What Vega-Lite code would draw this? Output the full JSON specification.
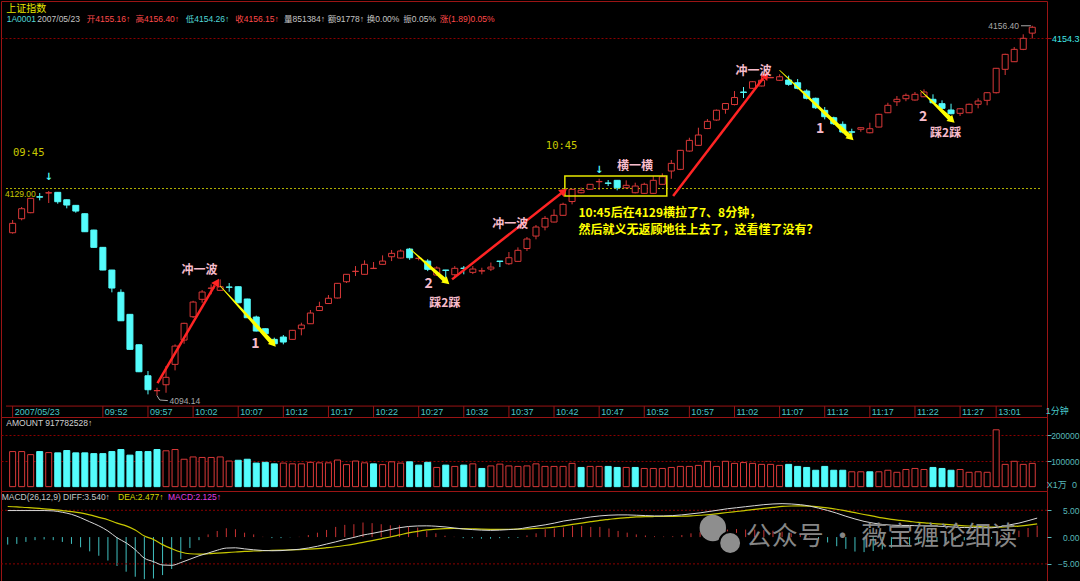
{
  "$schema": "https://vega.github.io/schema/vega-lite/v6.json",
  "background": "#000000",
  "padding": 0,
  "spacing": 0,
  "bounds": "flush",
  "config": {
    "view": {"stroke": "#9a1414", "strokeWidth": 1},
    "axis": {"labelFont": "Liberation Sans", "domain": false, "grid": false},
    "text": {"font": "Liberation Sans, Noto Sans CJK SC"}
  },
  "datasets": {
    "k": [
      {"i":0,"o":4121.56,"h":4123.70,"l":4121.40,"c":4123.14,"v":137000,"vd":1,"d":4.95,"e":5.71,"m":-1.4},
      {"i":1,"o":4123.92,"h":4125.89,"l":4123.65,"c":4125.60,"v":137000,"vd":1,"d":4.95,"e":5.65,"m":-1.27},
      {"i":2,"o":4124.93,"h":4127.40,"l":4124.85,"c":4127.35,"v":125000,"vd":1,"d":4.95,"e":5.52,"m":-0.9},
      {"i":3,"o":4127.62,"h":4128.24,"l":4127.01,"c":4127.55,"v":137000,"vd":0,"d":4.95,"e":5.40,"m":-0.57},
      {"i":4,"o":4128.24,"h":4128.58,"l":4126.56,"c":4128.30,"v":133000,"vd":1,"d":4.95,"e":5.27,"m":-0.44},
      {"i":5,"o":4128.36,"h":4128.40,"l":4126.44,"c":4126.78,"v":132000,"vd":0,"d":4.89,"e":5.14,"m":-0.57},
      {"i":6,"o":4127.11,"h":4127.15,"l":4125.67,"c":4126.22,"v":141000,"vd":0,"d":4.63,"e":4.95,"m":-0.9},
      {"i":7,"o":4126.17,"h":4126.20,"l":4124.93,"c":4125.21,"v":132000,"vd":0,"d":4.25,"e":4.76,"m":-1.27},
      {"i":8,"o":4124.76,"h":4124.80,"l":4121.70,"c":4121.73,"v":132000,"vd":0,"d":3.62,"e":4.51,"m":-1.9},
      {"i":9,"o":4122.01,"h":4122.05,"l":4119.05,"c":4119.10,"v":129000,"vd":0,"d":2.86,"e":4.13,"m":-2.66},
      {"i":10,"o":4119.10,"h":4119.15,"l":4115.25,"c":4115.28,"v":129000,"vd":0,"d":2.10,"e":3.68,"m":-3.48},
      {"i":11,"o":4115.28,"h":4115.30,"l":4111.53,"c":4112.25,"v":137000,"vd":0,"d":1.14,"e":3.24,"m":-4.37},
      {"i":12,"o":4111.53,"h":4112.03,"l":4106.70,"c":4106.74,"v":145000,"vd":0,"d":-0.13,"e":2.60,"m":-5.38},
      {"i":13,"o":4107.82,"h":4107.85,"l":4101.90,"c":4101.93,"v":123000,"vd":0,"d":-1.08,"e":2.10,"m":-6.46},
      {"i":14,"o":4102.70,"h":4102.75,"l":4098.10,"c":4098.16,"v":137000,"vd":0,"d":-2.35,"e":1.33,"m":-7.4},
      {"i":15,"o":4097.48,"h":4098.28,"l":4094.35,"c":4095.13,"v":137000,"vd":0,"d":-3.94,"e":0.19,"m":-7.85},
      {"i":16,"o":4094.96,"h":4095.46,"l":4094.14,"c":4095.00,"v":145000,"vd":0,"d":-4.57,"e":-0.44,"m":-7.72},
      {"i":17,"o":4095.97,"h":4099.12,"l":4094.62,"c":4097.22,"v":140000,"vd":1,"d":-5.21,"e":-1.40,"m":-7.09},
      {"i":18,"o":4099.40,"h":4102.77,"l":4098.39,"c":4102.48,"v":145000,"vd":1,"d":-5.27,"e":-2.16,"m":-5.95},
      {"i":19,"o":4103.49,"h":4106.40,"l":4102.87,"c":4106.31,"v":107000,"vd":1,"d":-4.76,"e":-2.79,"m":-4.11},
      {"i":20,"o":4107.42,"h":4110.10,"l":4107.20,"c":4109.89,"v":116000,"vd":1,"d":-4.13,"e":-3.11,"m":-2.03},
      {"i":21,"o":4110.35,"h":4111.91,"l":4109.77,"c":4111.58,"v":114000,"vd":1,"d":-3.49,"e":-3.17,"m":-0.57},
      {"i":22,"o":4112.20,"h":4112.87,"l":4111.19,"c":4112.25,"v":114000,"vd":1,"d":-2.98,"e":-3.11,"m":0.5},
      {"i":23,"o":4111.86,"h":4113.71,"l":4111.80,"c":4112.47,"v":116000,"vd":1,"d":-2.45,"e":-3.00,"m":1.14},
      {"i":24,"o":4112.42,"h":4113.09,"l":4111.63,"c":4112.38,"v":100000,"vd":1,"d":-2.05,"e":-2.90,"m":1.65},
      {"i":25,"o":4112.47,"h":4112.50,"l":4109.70,"c":4109.77,"v":103000,"vd":0,"d":-2.00,"e":-2.78,"m":1.46},
      {"i":26,"o":4110.40,"h":4110.45,"l":4107.20,"c":4107.25,"v":107000,"vd":0,"d":-2.20,"e":-2.67,"m":0.82},
      {"i":27,"o":4107.37,"h":4107.60,"l":4104.95,"c":4105.01,"v":92000,"vd":0,"d":-2.37,"e":-2.60,"m":0.5},
      {"i":28,"o":4105.40,"h":4105.45,"l":4104.50,"c":4104.56,"v":95000,"vd":0,"d":-2.50,"e":-2.54,"m":0.06},
      {"i":29,"o":4103.61,"h":4103.90,"l":4102.50,"c":4102.87,"v":89000,"vd":0,"d":-2.55,"e":-2.48,"m":-0.19},
      {"i":30,"o":4104.00,"h":4104.34,"l":4102.77,"c":4103.16,"v":92000,"vd":1,"d":-2.52,"e":-2.43,"m":-0.19},
      {"i":31,"o":4103.61,"h":4105.20,"l":4103.55,"c":4105.13,"v":89000,"vd":1,"d":-2.40,"e":-2.38,"m":-0.05},
      {"i":32,"o":4105.40,"h":4106.41,"l":4104.29,"c":4106.02,"v":89000,"vd":1,"d":-2.28,"e":-2.33,"m":0.05},
      {"i":33,"o":4106.24,"h":4108.55,"l":4106.20,"c":4108.04,"v":95000,"vd":1,"d":-2.03,"e":-2.25,"m":0.38},
      {"i":34,"o":4108.46,"h":4109.94,"l":4108.40,"c":4109.13,"v":93000,"vd":1,"d":-1.71,"e":-2.14,"m":0.82},
      {"i":35,"o":4109.64,"h":4111.07,"l":4109.60,"c":4110.53,"v":93000,"vd":1,"d":-1.30,"e":-1.98,"m":1.33},
      {"i":36,"o":4110.57,"h":4113.10,"l":4110.50,"c":4113.04,"v":104000,"vd":1,"d":-0.89,"e":-1.80,"m":1.9},
      {"i":37,"o":4113.31,"h":4114.60,"l":4113.10,"c":4114.56,"v":86000,"vd":1,"d":-0.44,"e":-1.57,"m":2.28},
      {"i":38,"o":4115.03,"h":4115.95,"l":4114.27,"c":4115.08,"v":100000,"vd":1,"d":-0.06,"e":-1.30,"m":2.4},
      {"i":39,"o":4114.56,"h":4116.91,"l":4114.50,"c":4116.24,"v":93000,"vd":1,"d":0.38,"e":-0.98,"m":2.72},
      {"i":40,"o":4115.53,"h":4116.63,"l":4115.45,"c":4115.58,"v":89000,"vd":0,"d":0.68,"e":-0.66,"m":2.6},
      {"i":41,"o":4116.24,"h":4117.75,"l":4116.20,"c":4116.79,"v":86000,"vd":1,"d":1.02,"e":-0.32,"m":2.4},
      {"i":42,"o":4117.52,"h":4118.65,"l":4116.79,"c":4118.09,"v":97000,"vd":1,"d":1.40,"e":0.02,"m":2.2},
      {"i":43,"o":4117.30,"h":4118.76,"l":4117.25,"c":4118.48,"v":92000,"vd":1,"d":1.75,"e":0.40,"m":2.2},
      {"i":44,"o":4118.81,"h":4119.00,"l":4117.00,"c":4117.35,"v":97000,"vd":0,"d":1.98,"e":0.78,"m":1.9},
      {"i":45,"o":4117.22,"h":4117.60,"l":4116.90,"c":4117.27,"v":84000,"vd":0,"d":2.08,"e":1.08,"m":1.77},
      {"i":46,"o":4116.79,"h":4117.10,"l":4115.10,"c":4115.40,"v":95000,"vd":0,"d":2.10,"e":1.33,"m":1.14},
      {"i":47,"o":4114.44,"h":4115.90,"l":4114.30,"c":4115.62,"v":75000,"vd":1,"d":2.03,"e":1.48,"m":0.7},
      {"i":48,"o":4115.28,"h":4115.30,"l":4113.93,"c":4115.22,"v":84000,"vd":0,"d":1.90,"e":1.57,"m":0.25},
      {"i":49,"o":4114.49,"h":4115.95,"l":4113.93,"c":4115.57,"v":79000,"vd":1,"d":1.71,"e":1.60,"m":0.06},
      {"i":50,"o":4115.60,"h":4115.95,"l":4114.56,"c":4115.55,"v":84000,"vd":0,"d":1.52,"e":1.59,"m":-0.2},
      {"i":51,"o":4114.89,"h":4115.95,"l":4114.60,"c":4115.45,"v":89000,"vd":1,"d":1.40,"e":1.54,"m":-0.2},
      {"i":52,"o":4115.11,"h":4115.67,"l":4114.56,"c":4115.16,"v":71000,"vd":0,"d":1.30,"e":1.48,"m":-0.3},
      {"i":53,"o":4115.45,"h":4116.54,"l":4115.11,"c":4115.78,"v":81000,"vd":1,"d":1.25,"e":1.45,"m":-0.3},
      {"i":54,"o":4116.79,"h":4116.80,"l":4115.78,"c":4116.73,"v":88000,"vd":1,"d":1.30,"e":1.44,"m":-0.2},
      {"i":55,"o":4116.34,"h":4118.31,"l":4116.12,"c":4117.35,"v":81000,"vd":1,"d":1.40,"e":1.45,"m":-0.2},
      {"i":56,"o":4116.74,"h":4119.10,"l":4116.70,"c":4118.60,"v":79000,"vd":1,"d":1.50,"e":1.47,"m":-0.15},
      {"i":57,"o":4118.90,"h":4120.84,"l":4118.48,"c":4120.50,"v":81000,"vd":1,"d":1.78,"e":1.52,"m":0.3},
      {"i":58,"o":4121.00,"h":4122.86,"l":4120.45,"c":4122.52,"v":89000,"vd":1,"d":2.03,"e":1.62,"m":0.7},
      {"i":59,"o":4122.52,"h":4124.37,"l":4121.96,"c":4123.98,"v":79000,"vd":1,"d":2.29,"e":1.70,"m":1.46},
      {"i":60,"o":4123.36,"h":4125.50,"l":4123.30,"c":4124.49,"v":79000,"vd":1,"d":2.61,"e":1.85,"m":1.6},
      {"i":61,"o":4124.49,"h":4126.61,"l":4124.40,"c":4126.34,"v":79000,"vd":1,"d":2.99,"e":2.10,"m":1.78},
      {"i":62,"o":4126.81,"h":4128.92,"l":4126.34,"c":4128.87,"v":91000,"vd":1,"d":3.25,"e":2.36,"m":2.1},
      {"i":63,"o":4128.29,"h":4129.17,"l":4128.20,"c":4128.71,"v":75000,"vd":0,"d":3.50,"e":2.61,"m":2.1},
      {"i":64,"o":4128.87,"h":4129.75,"l":4128.80,"c":4129.71,"v":79000,"vd":1,"d":3.76,"e":2.87,"m":1.9},
      {"i":65,"o":4130.14,"h":4130.65,"l":4128.75,"c":4130.19,"v":79000,"vd":1,"d":3.95,"e":3.12,"m":1.9},
      {"i":66,"o":4129.93,"h":4130.43,"l":4129.42,"c":4129.88,"v":79000,"vd":0,"d":4.08,"e":3.31,"m":1.6},
      {"i":67,"o":4130.38,"h":4130.40,"l":4128.70,"c":4129.13,"v":75000,"vd":0,"d":4.14,"e":3.50,"m":1.15},
      {"i":68,"o":4129.13,"h":4130.38,"l":4128.97,"c":4129.54,"v":75000,"vd":1,"d":4.14,"e":3.63,"m":0.83},
      {"i":69,"o":4128.29,"h":4129.98,"l":4128.20,"c":4129.42,"v":75000,"vd":0,"d":4.08,"e":3.76,"m":0.5},
      {"i":70,"o":4128.19,"h":4129.98,"l":4128.10,"c":4129.71,"v":71000,"vd":1,"d":4.01,"e":3.82,"m":0.3},
      {"i":71,"o":4128.19,"h":4131.10,"l":4128.10,"c":4130.38,"v":71000,"vd":1,"d":3.95,"e":3.84,"m":0.15},
      {"i":72,"o":4129.71,"h":4131.56,"l":4129.60,"c":4130.99,"v":71000,"vd":1,"d":3.95,"e":3.85,"m":0.1},
      {"i":73,"o":4131.95,"h":4133.80,"l":4130.65,"c":4133.24,"v":75000,"vd":1,"d":4.01,"e":3.86,"m":0.15},
      {"i":74,"o":4132.23,"h":4135.50,"l":4132.10,"c":4135.43,"v":79000,"vd":1,"d":4.14,"e":3.89,"m":0.38},
      {"i":75,"o":4135.31,"h":4137.55,"l":4135.20,"c":4137.11,"v":79000,"vd":1,"d":4.33,"e":3.95,"m":0.7},
      {"i":76,"o":4136.27,"h":4139.24,"l":4136.20,"c":4138.01,"v":83000,"vd":1,"d":4.52,"e":4.08,"m":0.9},
      {"i":77,"o":4139.10,"h":4140.70,"l":4139.00,"c":4140.31,"v":99000,"vd":1,"d":4.78,"e":4.20,"m":1.1},
      {"i":78,"o":4140.53,"h":4142.30,"l":4140.40,"c":4142.18,"v":79000,"vd":1,"d":5.03,"e":4.39,"m":1.3},
      {"i":79,"o":4142.33,"h":4143.40,"l":4141.59,"c":4143.31,"v":99000,"vd":1,"d":5.29,"e":4.59,"m":1.4},
      {"i":80,"o":4143.14,"h":4145.41,"l":4143.00,"c":4144.32,"v":91000,"vd":1,"d":5.48,"e":4.78,"m":1.5},
      {"i":81,"o":4145.25,"h":4146.09,"l":4144.24,"c":4145.18,"v":94000,"vd":1,"d":5.67,"e":4.97,"m":1.4},
      {"i":82,"o":4145.87,"h":4147.10,"l":4145.80,"c":4146.98,"v":91000,"vd":1,"d":5.86,"e":5.16,"m":1.4},
      {"i":83,"o":4146.26,"h":4147.94,"l":4146.20,"c":4147.22,"v":87000,"vd":1,"d":6.05,"e":5.35,"m":1.3},
      {"i":84,"o":4147.64,"h":4147.80,"l":4147.60,"c":4147.70,"v":87000,"vd":1,"d":6.18,"e":5.54,"m":1.2},
      {"i":85,"o":4147.22,"h":4148.23,"l":4147.10,"c":4147.82,"v":83000,"vd":1,"d":6.24,"e":5.73,"m":1.0},
      {"i":86,"o":4147.27,"h":4148.00,"l":4146.30,"c":4146.54,"v":87000,"vd":0,"d":6.18,"e":5.80,"m":0.7},
      {"i":87,"o":4146.81,"h":4147.43,"l":4145.70,"c":4145.87,"v":79000,"vd":0,"d":6.05,"e":5.82,"m":0.4},
      {"i":88,"o":4145.41,"h":4145.70,"l":4144.00,"c":4144.19,"v":75000,"vd":0,"d":5.80,"e":5.78,"m":0.1},
      {"i":89,"o":4144.19,"h":4144.30,"l":4142.40,"c":4142.60,"v":64000,"vd":0,"d":5.41,"e":5.65,"m":-0.4},
      {"i":90,"o":4142.16,"h":4142.72,"l":4140.65,"c":4141.09,"v":79000,"vd":0,"d":4.97,"e":5.45,"m":-1.0},
      {"i":91,"o":4140.92,"h":4141.10,"l":4139.70,"c":4139.91,"v":64000,"vd":0,"d":4.46,"e":5.20,"m":-1.7},
      {"i":92,"o":4139.81,"h":4140.30,"l":4138.30,"c":4138.51,"v":64000,"vd":0,"d":3.89,"e":4.88,"m":-2.2},
      {"i":93,"o":4138.55,"h":4139.07,"l":4137.84,"c":4138.48,"v":58000,"vd":1,"d":3.38,"e":4.55,"m":-2.7},
      {"i":94,"o":4138.97,"h":4139.30,"l":4138.56,"c":4139.24,"v":58000,"vd":1,"d":2.93,"e":4.22,"m":-2.8},
      {"i":95,"o":4138.39,"h":4140.08,"l":4138.30,"c":4139.07,"v":58000,"vd":0,"d":2.61,"e":3.90,"m":-2.6},
      {"i":96,"o":4139.35,"h":4141.60,"l":4139.30,"c":4141.49,"v":58000,"vd":1,"d":2.36,"e":3.57,"m":-2.3},
      {"i":97,"o":4141.76,"h":4143.44,"l":4141.70,"c":4143.01,"v":64000,"vd":1,"d":2.23,"e":3.31,"m":-2.0},
      {"i":98,"o":4143.61,"h":4144.57,"l":4142.89,"c":4144.02,"v":56000,"vd":1,"d":2.17,"e":3.12,"m":-1.8},
      {"i":99,"o":4144.12,"h":4145.00,"l":4143.70,"c":4144.69,"v":67000,"vd":1,"d":2.17,"e":2.93,"m":-1.5},
      {"i":100,"o":4143.90,"h":4145.25,"l":4143.80,"c":4144.86,"v":71000,"vd":1,"d":2.10,"e":2.74,"m":-1.3},
      {"i":101,"o":4144.45,"h":4145.70,"l":4144.40,"c":4145.25,"v":67000,"vd":1,"d":2.10,"e":2.61,"m":-1.0},
      {"i":102,"o":4144.02,"h":4144.86,"l":4143.30,"c":4143.44,"v":75000,"vd":0,"d":2.04,"e":2.48,"m":-0.9},
      {"i":103,"o":4143.28,"h":4143.85,"l":4142.40,"c":4142.50,"v":71000,"vd":0,"d":1.97,"e":2.36,"m":-0.8},
      {"i":104,"o":4142.22,"h":4143.28,"l":4141.50,"c":4141.59,"v":64000,"vd":0,"d":1.85,"e":2.23,"m":-0.7},
      {"i":105,"o":4141.66,"h":4142.50,"l":4141.21,"c":4142.43,"v":67000,"vd":1,"d":1.78,"e":2.10,"m":-0.6},
      {"i":106,"o":4141.76,"h":4143.30,"l":4141.70,"c":4143.18,"v":56000,"vd":1,"d":1.78,"e":2.04,"m":-0.5},
      {"i":107,"o":4143.18,"h":4144.19,"l":4142.50,"c":4143.73,"v":58000,"vd":1,"d":1.72,"e":1.93,"m":-0.4},
      {"i":108,"o":4143.85,"h":4145.20,"l":4143.01,"c":4145.13,"v":56000,"vd":1,"d":1.72,"e":1.87,"m":-0.3},
      {"i":109,"o":4145.13,"h":4149.30,"l":4145.00,"c":4149.24,"v":222000,"vd":1,"d":1.97,"e":1.87,"m":0.25},
      {"i":110,"o":4149.07,"h":4151.70,"l":4148.11,"c":4151.59,"v":87000,"vd":1,"d":2.29,"e":1.93,"m":0.8},
      {"i":111,"o":4150.35,"h":4152.82,"l":4150.30,"c":4152.43,"v":99000,"vd":1,"d":2.61,"e":2.05,"m":1.2},
      {"i":112,"o":4152.43,"h":4154.96,"l":4152.30,"c":4154.29,"v":87000,"vd":1,"d":3.06,"e":2.22,"m":1.7},
      {"i":113,"o":4155.16,"h":4156.40,"l":4154.26,"c":4156.15,"v":91000,"vd":1,"d":3.54,"e":2.477,"m":2.125}
    ],
    "times": [
      {"i": 0, "t": "2007/05/23"}, {"i": 10, "t": "09:52"}, {"i": 15, "t": "09:57"}, {"i": 20, "t": "10:02"},
      {"i": 25, "t": "10:07"}, {"i": 30, "t": "10:12"}, {"i": 35, "t": "10:17"}, {"i": 40, "t": "10:22"},
      {"i": 45, "t": "10:27"}, {"i": 50, "t": "10:32"}, {"i": 55, "t": "10:37"}, {"i": 60, "t": "10:42"},
      {"i": 65, "t": "10:47"}, {"i": 70, "t": "10:52"}, {"i": 75, "t": "10:57"}, {"i": 80, "t": "11:02"},
      {"i": 85, "t": "11:07"}, {"i": 90, "t": "11:12"}, {"i": 95, "t": "11:17"}, {"i": 100, "t": "11:22"},
      {"i": 105, "t": "11:27"}, {"i": 109, "t": "13:01"}
    ]
  },
  "vconcat": [
    {
      "width": 1046,
      "height": 416,
      "encoding": {
        "x": {
          "field": "i", "type": "quantitative", "title": null, "axis": null,
          "scale": {"domain": [-0.735, 114.08], "nice": false, "zero": false}
        }
      },
      "layer": [
        {
          "data": {"name": "k"},
          "mark": {"type": "rule", "strokeWidth": 1},
          "encoding": {
            "y": {
              "field": "l", "type": "quantitative", "title": null,
              "scale": {"domain": [4090.54, 4160.57], "nice": false, "zero": false},
              "axis": {"orient": "right", "values": [4154.3], "format": ".1f", "labelColor": "#40e8e8", "labelFontSize": 9,
                "tickColor": "#9a1414", "tickSize": 4, "labelAlign": "right", "labelPadding": 28, "labelBaseline": "middle",
                "grid": true, "gridColor": "#8a0000", "gridDash": [2, 2], "domain": false}
            },
            "y2": {"field": "h"},
            "color": {"condition": {"test": "datum.c >= datum.o", "value": "#d83838"}, "value": "#54fcfc"}
          }
        },
        {
          "data": {"values": [{"i": -0.735, "i2": 114.08, "p": 4129}]},
          "mark": {"type": "rule", "color": "#b4b400", "strokeDash": [2, 2], "strokeWidth": 1},
          "encoding": {"x2": {"field": "i2"}, "y": {"field": "p", "type": "quantitative", "title": null}}
        },
        {
          "data": {"values": [{"i": -0.735, "i2": 114.08, "p": 4092.38}]},
          "mark": {"type": "rule", "color": "#9a1414", "strokeWidth": 1},
          "encoding": {"x2": {"field": "i2"}, "y": {"field": "p", "type": "quantitative", "title": null}}
        },
        {
          "data": {"name": "times"},
          "mark": {"type": "rule", "color": "#9a1414", "strokeWidth": 1},
          "encoding": {"y": {"datum": 4090.54, "type": "quantitative"}, "y2": {"datum": 4092.38}}
        },
        {
          "data": {"name": "times"},
          "mark": {"type": "text", "fontSize": 9, "color": "#48c8c8", "align": "left", "baseline": "top", "dx": 2, "dy": 2},
          "encoding": {"y": {"datum": 4092.38, "type": "quantitative"}, "text": {"field": "t"}}
        },
        {
          "data": {"name": "k"},
          "mark": {"type": "bar", "width": 6, "strokeWidth": 1},
          "encoding": {
            "y": {"field": "o", "type": "quantitative", "title": null},
            "y2": {"field": "c"},
            "fill": {"condition": {"test": "datum.c >= datum.o", "value": "#000000"}, "value": "#54fcfc"},
            "stroke": {"condition": {"test": "datum.c >= datum.o", "value": "#d83838"}, "value": "#54fcfc"}
          }
        },
        {
          "data": {"values": [{"i": 61.2, "i2": 72.5, "p": 4127.74, "p2": 4131.1}]},
          "mark": {"type": "rect", "filled": false, "stroke": "#e8e800", "strokeWidth": 1.5},
          "encoding": {"x2": {"field": "i2"}, "y": {"field": "p", "type": "quantitative", "title": null}, "y2": {"field": "p2"}}
        },
        {
          "data": {"values": [
            {"a": "r1", "i": 16.06, "p": 4096.26}, {"a": "r1", "i": 22.4, "p": 4112.7},
            {"a": "r2", "i": 48.7, "p": 4113.71}, {"a": "r2", "i": 60.8, "p": 4128.2},
            {"a": "r3", "i": 73.2, "p": 4127.74}, {"a": "r3", "i": 83.2, "p": 4147.6}
          ]},
          "mark": {"type": "line", "color": "#ff2424", "strokeWidth": 2.5},
          "encoding": {"y": {"field": "p", "type": "quantitative", "title": null}, "detail": {"field": "a"}}
        },
        {
          "data": {"values": [
            {"a": "y1", "k": 0, "i": 23.0, "p": 4112.6}, {"a": "y1", "k": 1, "i": 28.6, "p": 4103.3},
            {"a": "y2", "k": 0, "i": 44.1, "p": 4118.77}, {"a": "y2", "k": 1, "i": 47.8, "p": 4113.7},
            {"a": "y3", "k": 0, "i": 85.0, "p": 4148.9}, {"a": "y3", "k": 1, "i": 92.6, "p": 4138.0},
            {"a": "y4", "k": 0, "i": 100.6, "p": 4145.53}, {"a": "y4", "k": 1, "i": 103.8, "p": 4140.9}
          ]},
          "mark": {"type": "trail", "color": "#ffff00"},
          "encoding": {
            "y": {"field": "p", "type": "quantitative", "title": null},
            "detail": {"field": "a"},
            "size": {"field": "k", "type": "quantitative", "scale": {"domain": [0, 1], "range": [0.6, 4.5]}, "legend": null}
          }
        },
        {
          "data": {"values": [
            {"i": 22.65, "p": 4113.26, "ang": 30.7},
            {"i": 61.1, "p": 4128.58, "ang": 52.1},
            {"i": 83.5, "p": 4148.1, "ang": 37.8}
          ]},
          "mark": {"type": "point", "shape": "triangle-up", "filled": true, "color": "#ff2424", "size": 80, "opacity": 1},
          "encoding": {"y": {"field": "p", "type": "quantitative", "title": null}, "angle": {"field": "ang", "type": "quantitative", "scale": null}}
        },
        {
          "data": {"values": [
            {"i": 28.9, "p": 4102.82, "ang": 138.9},
            {"i": 48.1, "p": 4113.31, "ang": 131.4},
            {"i": 92.9, "p": 4137.55, "ang": 133.2},
            {"i": 104.1, "p": 4140.48, "ang": 133.4}
          ]},
          "mark": {"type": "point", "shape": "triangle-up", "filled": true, "color": "#ffff00", "size": 70, "opacity": 1},
          "encoding": {"y": {"field": "p", "type": "quantitative", "title": null}, "angle": {"field": "ang", "type": "quantitative", "scale": null}}
        },
        {
          "data": {"values": [
            {"i": 20.7, "p": 4115.28, "t": "冲一波"},
            {"i": 55.14, "p": 4122.97, "t": "冲一波"},
            {"i": 82.1, "p": 4148.78, "t": "冲一波"},
            {"i": 47.9, "p": 4109.67, "t": "踩2踩"},
            {"i": 103.4, "p": 4138.29, "t": "踩2踩"},
            {"i": 68.97, "p": 4132.79, "t": "横一横"}
          ]},
          "mark": {"type": "text", "font": "Noto Sans CJK SC", "fontSize": 12, "fontWeight": "bold", "color": "#f7bccb", "align": "center", "baseline": "middle"},
          "encoding": {"y": {"field": "p", "type": "quantitative", "title": null}, "text": {"field": "t"}}
        },
        {
          "data": {"values": [
            {"i": 26.9, "p": 4102.8, "t": "1"},
            {"i": 46.1, "p": 4112.87, "t": "2"},
            {"i": 89.5, "p": 4138.97, "t": "1"},
            {"i": 100.9, "p": 4141.04, "t": "2"}
          ]},
          "mark": {"type": "text", "font": "Noto Sans CJK SC", "fontSize": 14, "fontWeight": "bold", "color": "#f7bccb", "align": "center", "baseline": "middle"},
          "encoding": {"y": {"field": "p", "type": "quantitative", "title": null}, "text": {"field": "t"}}
        },
        {
          "data": {"values": [
            {"i": 62.71, "p": 4124.88, "t": "10:45后在4129横拉了7、8分钟，"},
            {"i": 62.71, "p": 4122.1, "t": "然后就义无返顾地往上去了，这看懂了没有？"}
          ]},
          "mark": {"type": "text", "font": "Noto Sans CJK SC", "fontSize": 12, "fontWeight": "bold", "color": "#ffff00", "align": "left", "baseline": "middle"},
          "encoding": {"y": {"field": "p", "type": "quantitative", "title": null}, "text": {"field": "t"}}
        },
        {
          "data": {"values": [
            {"i": 0.03, "p": 4134.98, "t": "09:45"},
            {"i": 59.09, "p": 4136.15, "t": "10:45"}
          ]},
          "mark": {"type": "text", "font": "DejaVu Sans Mono", "fontSize": 10.5, "color": "#c8c800", "align": "left", "baseline": "middle"},
          "encoding": {"y": {"field": "p", "type": "quantitative", "title": null}, "text": {"field": "t"}}
        },
        {
          "data": {"values": [{"i": 17.38, "p": 4093.28, "t": "4094.14"}]},
          "mark": {"type": "text", "fontSize": 8.5, "color": "#a8a8a8", "align": "left", "baseline": "middle"},
          "encoding": {"y": {"field": "p", "type": "quantitative", "title": null}, "text": {"field": "t"}}
        },
        {
          "data": {"values": [{"i": 111.53, "p": 4156.44, "t": "4156.40"}]},
          "mark": {"type": "text", "fontSize": 8.5, "color": "#a8a8a8", "align": "right", "baseline": "middle"},
          "encoding": {"y": {"field": "p", "type": "quantitative", "title": null}, "text": {"field": "t"}}
        },
        {
          "data": {"values": [
            {"a": "g1", "i": 16.0, "p": 4094.14}, {"a": "g1", "i": 16.3, "p": 4093.4}, {"a": "g1", "i": 17.2, "p": 4093.3},
            {"a": "g2", "i": 111.75, "p": 4156.4}, {"a": "g2", "i": 112.85, "p": 4156.4}
          ]},
          "mark": {"type": "line", "color": "#a8a8a8", "strokeWidth": 1},
          "encoding": {"y": {"field": "p", "type": "quantitative", "title": null}, "detail": {"field": "a"}}
        },
        {
          "data": {"values": [{"i": 4.0, "p": 4130.94, "t": "↓"}, {"i": 65.0, "p": 4132.11, "t": "↓"}]},
          "mark": {"type": "text", "font": "DejaVu Sans", "fontSize": 10, "fontWeight": "bold", "color": "#54fcfc", "align": "center", "baseline": "middle"},
          "encoding": {"y": {"field": "p", "type": "quantitative", "title": null}, "text": {"field": "t"}}
        },
        {
          "data": {"values": [{"i": -0.7, "p": 4159.3, "t": "上证指数"}]},
          "mark": {"type": "text", "font": "Noto Sans CJK SC", "fontSize": 10, "color": "#e6e600", "align": "left", "baseline": "middle"},
          "encoding": {"y": {"field": "p", "type": "quantitative", "title": null}, "text": {"field": "t"}}
        },
        {
          "data": {"values": [{"i": -0.66, "p": 4157.6, "t": "1A0001"}, {"i": 19.19, "p": 4157.6, "t": "低4154.26↑"}]},
          "mark": {"type": "text", "fontSize": 8.5, "color": "#50d8d8", "align": "left", "baseline": "middle"},
          "encoding": {"y": {"field": "p", "type": "quantitative", "title": null}, "text": {"field": "t"}}
        },
        {
          "data": {"values": [
            {"i": 2.74, "p": 4157.6, "t": "2007/05/23"},
            {"i": 30.07, "p": 4157.6, "t": "量851384↑"},
            {"i": 34.91, "p": 4157.6, "t": "额91778↑"},
            {"i": 39.25, "p": 4157.6, "t": "换0.00%"},
            {"i": 43.3, "p": 4157.6, "t": "振0.05%"}
          ]},
          "mark": {"type": "text", "fontSize": 8.5, "color": "#c4c4c4", "align": "left", "baseline": "middle"},
          "encoding": {"y": {"field": "p", "type": "quantitative", "title": null}, "text": {"field": "t"}}
        },
        {
          "data": {"values": [
            {"i": 8.22, "p": 4157.6, "t": "开4155.16↑"},
            {"i": 13.63, "p": 4157.6, "t": "高4156.40↑"},
            {"i": 24.67, "p": 4157.6, "t": "收4156.15↑"},
            {"i": 47.34, "p": 4157.6, "t": "涨(1.89)0.05%"}
          ]},
          "mark": {"type": "text", "fontSize": 8.5, "color": "#ff4a4a", "align": "left", "baseline": "middle"},
          "encoding": {"y": {"field": "p", "type": "quantitative", "title": null}, "text": {"field": "t"}}
        },
        {
          "data": {"values": [{"i": -0.84, "p": 4128.07, "t": "4129.00"}]},
          "mark": {"type": "text", "fontSize": 8.5, "color": "#c8c800", "align": "left", "baseline": "middle"},
          "encoding": {"y": {"field": "p", "type": "quantitative", "title": null}, "text": {"field": "t"}}
        },
        {
          "data": {"values": [{"i": 114.5, "p": 4092.38, "t": "1分钟"}]},
          "mark": {"type": "text", "fontSize": 9, "color": "#48c8c8", "align": "left", "baseline": "top", "dy": 1},
          "encoding": {"y": {"field": "p", "type": "quantitative", "title": null}, "text": {"field": "t"}}
        }
      ]
    },
    {
      "width": 1046,
      "height": 74,
      "encoding": {
        "x": {"field": "i", "type": "quantitative", "title": null, "axis": null,
          "scale": {"domain": [-0.735, 114.08], "nice": false, "zero": false}}
      },
      "layer": [
        {
          "data": {"name": "k"},
          "mark": {"type": "bar", "width": 6, "strokeWidth": 1},
          "encoding": {
            "y": {"field": "v", "type": "quantitative", "title": null,
              "scale": {"domain": [-17000, 272000], "nice": false, "zero": false},
              "axis": {"orient": "right", "values": [100000, 200000], "format": "d", "labelColor": "#58b8b8", "labelFontSize": 8.5,
                "tickColor": "#58b8b8", "tickSize": 4, "labelAlign": "right", "labelPadding": 28, "labelBaseline": "middle",
                "grid": true, "gridColor": "#8a0000", "gridDash": [2, 2], "domain": false}},
            "y2": {"datum": 0},
            "fill": {"condition": {"test": "datum.vd == 1", "value": "#000000"}, "value": "#54fcfc"},
            "stroke": {"condition": {"test": "datum.vd == 1", "value": "#d83838"}, "value": "#54fcfc"}
          }
        },
        {
          "data": {"values": [{"i": -0.7, "p": 272000, "t": "AMOUNT 917782528↑"}]},
          "mark": {"type": "text", "fontSize": 8.5, "color": "#d0d0d0", "align": "left", "baseline": "top", "dy": 2},
          "encoding": {"y": {"field": "p", "type": "quantitative", "title": null}, "text": {"field": "t"}}
        },
        {
          "data": {"values": [{"i": 114.6, "p": 8000, "t": "X1万"}, {"i": 117.4, "p": 8000, "t": "0"}]},
          "mark": {"type": "text", "fontSize": 9, "color": "#58b8b8", "align": "left", "baseline": "middle"},
          "encoding": {"y": {"field": "p", "type": "quantitative", "title": null}, "text": {"field": "t"}}
        }
      ]
    },
    {
      "width": 1046,
      "height": 91,
      "encoding": {
        "x": {"field": "i", "type": "quantitative", "title": null, "axis": null,
          "scale": {"domain": [-0.735, 114.08], "nice": false, "zero": false}}
      },
      "layer": [
        {
          "data": {"name": "k"},
          "mark": {"type": "rule", "strokeWidth": 1},
          "encoding": {
            "y": {"field": "m", "type": "quantitative", "title": null,
              "scale": {"domain": [-8.38, 8.6], "nice": false, "zero": false},
              "axis": {"orient": "right", "values": [-5, 0, 5], "format": ".2f", "labelColor": "#58b8b8", "labelFontSize": 8.5,
                "tickColor": "#58b8b8", "tickSize": 4, "labelAlign": "right", "labelPadding": 28, "labelBaseline": "middle",
                "grid": false, "domain": false}},
            "y2": {"datum": 0},
            "color": {"condition": {"test": "datum.m >= 0", "value": "#c83232"}, "value": "#40c0c0"}
          }
        },
        {
          "data": {"values": [{"i": -0.735, "i2": 114.08, "p": 5}, {"i": -0.735, "i2": 114.08, "p": -5}]},
          "mark": {"type": "rule", "color": "#8a0000", "strokeDash": [2, 2], "strokeWidth": 1},
          "encoding": {"x2": {"field": "i2"}, "y": {"field": "p", "type": "quantitative", "title": null}}
        },
        {
          "data": {"name": "k"},
          "mark": {"type": "line", "color": "#c8c800", "strokeWidth": 1.2, "interpolate": "monotone"},
          "encoding": {"y": {"field": "e", "type": "quantitative", "title": null}}
        },
        {
          "data": {"name": "k"},
          "mark": {"type": "line", "color": "#d8d8d8", "strokeWidth": 1, "interpolate": "monotone"},
          "encoding": {"y": {"field": "d", "type": "quantitative", "title": null}}
        },
        {
          "data": {"values": [{"i": -0.66, "p": 8.6, "t": "MACD(26,12,9) DIFF:3.540↑"}]},
          "mark": {"type": "text", "fontSize": 8.5, "color": "#c8c8c8", "align": "left", "baseline": "top", "dy": 2},
          "encoding": {"y": {"field": "p", "type": "quantitative", "title": null}, "text": {"field": "t"}}
        },
        {
          "data": {"values": [{"i": 12.11, "p": 8.6, "t": "DEA:2.477↑"}]},
          "mark": {"type": "text", "fontSize": 8.5, "color": "#d8d800", "align": "left", "baseline": "top", "dy": 2},
          "encoding": {"y": {"field": "p", "type": "quantitative", "title": null}, "text": {"field": "t"}}
        },
        {
          "data": {"values": [{"i": 17.6, "p": 8.6, "t": "MACD:2.125↑"}]},
          "mark": {"type": "text", "fontSize": 8.5, "color": "#e040e0", "align": "left", "baseline": "top", "dy": 2},
          "encoding": {"y": {"field": "p", "type": "quantitative", "title": null}, "text": {"field": "t"}}
        },
        {
          "data": {"values": [{"i": 77.4, "p": 1.7}]},
          "mark": {"type": "point", "shape": "circle", "filled": true, "color": "#8e8e8e", "size": 700, "opacity": 1},
          "encoding": {"y": {"field": "p", "type": "quantitative", "title": null}}
        },
        {
          "data": {"values": [{"i": 79.3, "p": -1.1}]},
          "mark": {"type": "point", "shape": "circle", "filled": true, "color": "#8e8e8e", "size": 480, "opacity": 1, "stroke": "#000000", "strokeWidth": 2},
          "encoding": {"y": {"field": "p", "type": "quantitative", "title": null}}
        },
        {
          "data": {"values": [{"i": 81.0, "p": 0.1, "t": "公众号 · 薇宝缠论细读"}]},
          "mark": {"type": "text", "font": "Noto Sans CJK SC", "fontSize": 26, "color": "#8e8e8e", "opacity": 0.95, "align": "left", "baseline": "middle"},
          "encoding": {"y": {"field": "p", "type": "quantitative", "title": null}, "text": {"field": "t"}}
        }
      ]
    }
  ]
}
